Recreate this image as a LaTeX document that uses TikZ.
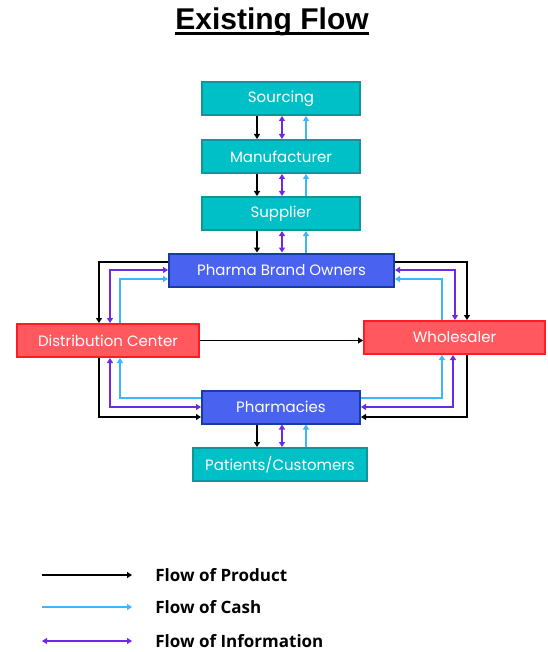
\documentclass[tikz,border=0pt]{standalone}
\usepackage{fontspec}
\setmainfont{Poppins}
\newfontfamily\legendfont{Open Sans}
\newfontfamily\titlefont{Liberation Sans}
\usetikzlibrary{arrows.meta}

\definecolor{tealfill}{RGB}{0,192,199}
\definecolor{tealline}{RGB}{16,150,152}
\definecolor{bluefill}{RGB}{74,98,240}
\definecolor{blueline}{RGB}{24,60,165}
\definecolor{redfill}{RGB}{255,88,94}
\definecolor{redline}{RGB}{255,28,36}
\definecolor{infoline}{RGB}{110,40,232}
\definecolor{cashline}{RGB}{60,182,255}

\tikzset{every picture/.style={line width=0.75pt}}
\tikzset{
  stagebox/.style={draw=tealline,fill=tealfill,line width=2pt,text=white,minimum height=33pt,inner sep=0pt,font=\fontsize{15}{17}\selectfont},
  ownerbox/.style={stagebox,draw=blueline,fill=bluefill},
  tradebox/.style={stagebox,draw=redline,fill=redfill},
  product/.style={draw=black,line width=1.5pt,-{Triangle[length=5pt,width=6pt]}},
  cash/.style={draw=cashline,line width=1.5pt,-{Triangle[length=5pt,width=6pt]}},
  info/.style={draw=infoline,line width=1.5pt,{Triangle[length=5pt,width=6pt]}-{Triangle[length=5pt,width=6pt]}},
  legendtext/.style={anchor=west,inner sep=0pt,font=\legendfont\bfseries\fontsize{17}{19}\selectfont}
}

\begin{document}
\begin{tikzpicture}[x=1pt,y=1pt,yscale=-1]
\useasboundingbox (0,0) rectangle (547,652);

% Text Node
\node (title) [inner sep=0pt,anchor=base] at (272,30) {\titlefont\bfseries\fontsize{30}{33}\selectfont Existing Flow};
%Straight Lines
\draw [line width=2.5pt] ([yshift=-3pt]title.south west) -- ([yshift=-3pt]title.south east);

%Shape: Rectangle
\node (src) [stagebox,minimum width=158pt] at (281,98.5) {Sourcing};
\node (mfr) [stagebox,minimum width=158pt] at (281,156.5) {Manufacturer};
\node (sup) [stagebox,minimum width=158pt] at (281,213.5) {Supplier};
\node (pbo) [ownerbox,minimum width=225pt] at (281.5,270) {Pharma Brand Owners};
\node (dc) [tradebox,minimum width=182pt] at (108,340.5) {Distribution Center};
\node (whs) [tradebox,minimum width=181pt] at (454.5,337.5) {Wholesaler};
\node (phm) [ownerbox,minimum width=158pt] at (281,407) {Pharmacies};
\node (pat) [stagebox,minimum width=174pt] at (280,464.5) {Patients/Customers};

%Straight Lines
\foreach \a/\b in {src/mfr,mfr/sup,sup/pbo,phm/pat}{
  \draw [product] ([xshift=-24pt]\a.south) -- ([xshift=-24pt]\a.south |- \b.north);
  \draw [info] ([xshift=1pt]\a.south) -- ([xshift=1pt]\a.south |- \b.north);
  \draw [cash] ([xshift=25pt]\a.south |- \b.north) -- ([xshift=25pt]\a.south);
}

%Straight Lines
\draw [product] ([yshift=-8pt]pbo.west) -| ([xshift=-9pt]dc.north);
\draw [info] ([xshift=2pt]dc.north) |- (pbo.west);
\draw [cash] ([xshift=12pt]dc.north) |- ([yshift=9pt]pbo.west);
\draw [product] ([yshift=-8pt]pbo.east) -| ([xshift=12.5pt]whs.north);
\draw [info] ([xshift=0.5pt]whs.north) |- (pbo.east);
\draw [cash] ([xshift=-12.5pt]whs.north) |- ([yshift=9pt]pbo.east);

%Straight Lines
\draw [product] ([xshift=-9pt]dc.south) |- ([yshift=10pt]phm.west);
\draw [info] ([xshift=2pt]dc.south) |- (phm.west);
\draw [cash] ([yshift=-9pt]phm.west) -| ([xshift=12pt]dc.south);
\draw [product] ([xshift=12.5pt]whs.south) |- ([yshift=10pt]phm.east);
\draw [info] ([xshift=-1.5pt]whs.south) |- (phm.east);
\draw [cash] ([yshift=-9pt]phm.east) -| ([xshift=-12.5pt]whs.south);

%Straight Lines
\draw [product] (dc.east) -- (dc.east -| whs.west);

% legend
\coordinate (pa) at (42,575);
\coordinate (pb) at (132,575);
\coordinate (ca) at (42,607);
\coordinate (cb) at (132,607);
\coordinate (ia) at (42,641);
\coordinate (ib) at (132,641);
\draw [product] (pa) -- (pb);
\draw [cash] (ca) -- (cb);
\draw [info] (ia) -- (ib);
% Text Node
\node (lprod) [legendtext] at (155,575) {Flow of Product};
\node (lcash) [legendtext] at (155,607) {Flow of Cash};
\node (linfo) [legendtext] at (155,641) {Flow of Information};

\end{tikzpicture}
\end{document}
